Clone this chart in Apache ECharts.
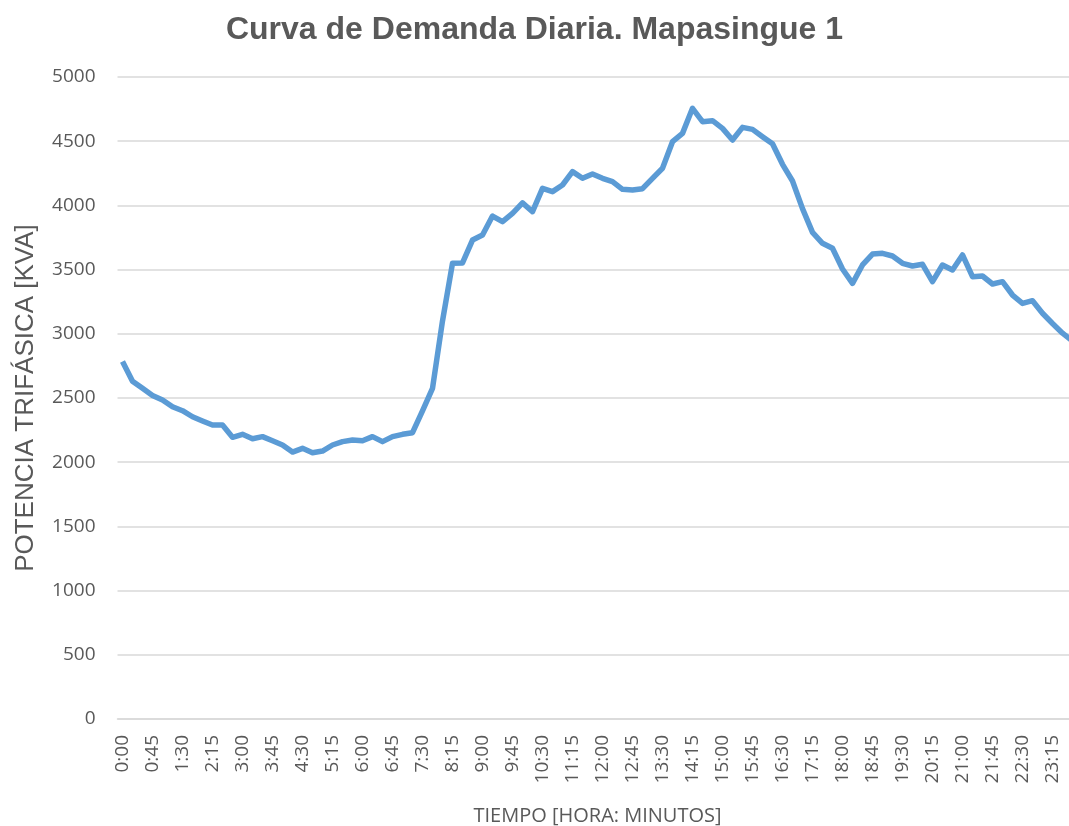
<!DOCTYPE html>
<html>
<head>
<meta charset="utf-8">
<script src="https://cdn.jsdelivr.net/npm/echarts@6/dist/echarts.min.js"></script>
<style>
  html, body { margin: 0; padding: 0; background: #fff; }
  #main { width: 1069px; height: 826px; }
</style>
</head>
<body>
<div id="main"></div>
<script>
// horas cada 15 minutos
var horas = [
  "0:00","0:15","0:30","0:45","1:00","1:15","1:30","1:45","2:00","2:15","2:30","2:45",
  "3:00","3:15","3:30","3:45","4:00","4:15","4:30","4:45","5:00","5:15","5:30","5:45",
  "6:00","6:15","6:30","6:45","7:00","7:15","7:30","7:45","8:00","8:15","8:30","8:45",
  "9:00","9:15","9:30","9:45","10:00","10:15","10:30","10:45","11:00","11:15","11:30","11:45",
  "12:00","12:15","12:30","12:45","13:00","13:15","13:30","13:45","14:00","14:15","14:30","14:45",
  "15:00","15:15","15:30","15:45","16:00","16:15","16:30","16:45","17:00","17:15","17:30","17:45",
  "18:00","18:15","18:30","18:45","19:00","19:15","19:30","19:45","20:00","20:15","20:30","20:45",
  "21:00","21:15","21:30","21:45","22:00","22:15","22:30","22:45","23:00","23:15","23:30","23:45"
];

// potencia trifasica [KVA]
var potencia = [
  2785, 2630, 2575, 2520, 2485, 2432, 2401, 2354, 2321, 2290,
  2290, 2194, 2217, 2183, 2199, 2167, 2134, 2079, 2108, 2074,
  2087, 2134, 2160, 2173, 2167, 2199, 2160, 2199, 2217, 2230,
  2400, 2575, 3100, 3549, 3552, 3730, 3769, 3917, 3873, 3938,
  4020, 3951, 4133, 4107, 4159, 4263, 4211, 4245, 4211, 4185,
  4125, 4120, 4130, 4211, 4289, 4496, 4561, 4756, 4652, 4660,
  4600, 4509, 4608, 4592, 4535, 4480, 4320, 4190, 3975, 3790,
  3705, 3666, 3505, 3393, 3536, 3621, 3627, 3606, 3549, 3528,
  3541, 3406, 3536, 3497, 3614, 3445, 3450, 3388, 3406, 3302,
  3237, 3258, 3160, 3080, 3005, 2945
];

var myChart = echarts.init(document.getElementById('main'));

var option = {
  animation: false,
  backgroundColor: '#fff',
  title: {
    text: 'Curva de Demanda Diaria. Mapasingue 1',
    left: 'center',
    top: 9,
    textStyle: {
      fontFamily: 'Liberation Sans',
      fontSize: 32,
      fontWeight: 'bold',
      color: '#595959'
    }
  },
  grid: {
    left: 117.5,
    top: 77,
    width: 960,
    height: 642,
    outerBoundsMode: 'none'
  },
  xAxis: {
    type: 'category',
    data: horas,
    boundaryGap: true,
    name: 'TIEMPO [HORA: MINUTOS]',
    nameLocation: 'middle',
    nameGap: 87,
    nameTextStyle: {
      fontFamily: 'Open Sans',
      fontSize: 20,
      color: '#595959'
    },
    axisLine: { lineStyle: { color: '#d9d9d9', width: 1.5 } },
    axisTick: { show: false },
    axisLabel: {
      interval: 2,
      rotate: 90,
      margin: 16,
      fontFamily: 'Open Sans',
      fontSize: 19,
      color: '#595959'
    }
  },
  yAxis: {
    type: 'value',
    min: 0,
    max: 5000,
    interval: 500,
    name: 'POTENCIA TRIFÁSICA [KVA]',
    nameLocation: 'middle',
    nameGap: 79,
    nameTextStyle: {
      fontFamily: 'Liberation Sans',
      fontSize: 26,
      color: '#595959'
    },
    axisLine: { show: false },
    axisTick: { show: false },
    axisLabel: {
      margin: 22,
      fontFamily: 'Open Sans',
      fontSize: 19,
      color: '#595959',
      formatter: function (v) { return String(v); }
    },
    splitLine: { lineStyle: { color: '#d9d9d9', width: 1.5 } }
  },
  series: [
    {
      type: 'line',
      data: potencia,
      symbol: 'none',
      smooth: false,
      clip: false,
      lineStyle: { color: '#5B9BD5', width: 5.5, join: 'round' },
      itemStyle: { color: '#5B9BD5' }
    }
  ]
};

myChart.setOption(option);
</script>
</body>
</html>
